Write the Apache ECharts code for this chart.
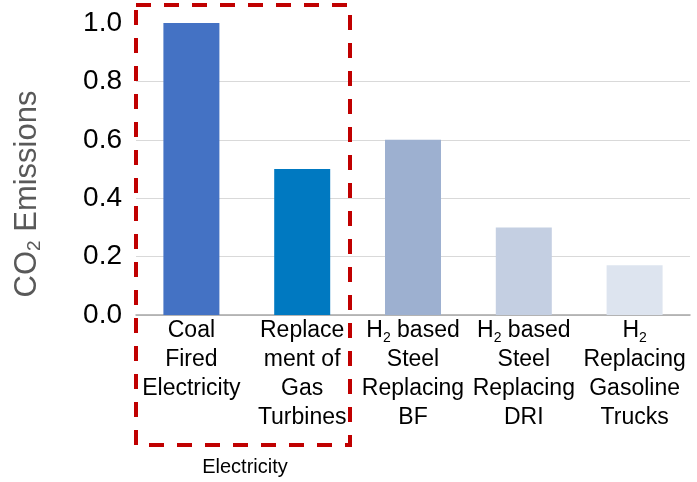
<!DOCTYPE html>
<html>
<head>
<meta charset="utf-8">
<script src="https://cdn.jsdelivr.net/npm/echarts@6/dist/echarts.min.js"></script>
<style>
  html, body { margin: 0; padding: 0; background: #ffffff; }
  #chart { width: 697px; height: 482px; }
</style>
</head>
<body>
<div id="chart"></div>
<script>
// Relative CO2 emissions per technology pathway
const categories = [
  'Coal\nFired\nElectricity',
  'Replace\nment of\nGas\nTurbines',
  'H₂ based\nSteel\nReplacing\nBF',
  'H₂ based\nSteel\nReplacing\nDRI',
  'H₂\nReplacing\nGasoline\nTrucks'
];
const emissions = [1.0, 0.5, 0.6, 0.3, 0.17];
const barColors = ['#4472c4', '#0079c1', '#9db0d0', '#c4cfe2', '#dde4ef'];
const yTicks = [0, 0.2, 0.4, 0.6, 0.8, 1.0];

const FONT = '"Liberation Sans", Arial, sans-serif';

// turn "H₂" into H with a lowered small 2
function richLabel(text) {
  return text.split('\n').map(function (line) {
    return '{a|' + line.split('₂').join('}{s|2}{a|') + '}';
  }).join('\n');
}

const chart = echarts.init(document.getElementById('chart'), null, { renderer: 'canvas' });

chart.setOption({
  animation: false,
  backgroundColor: '#ffffff',
  grid: { left: 136, right: 7, top: 23, bottom: 167, containLabel: false },
  xAxis: {
    type: 'category',
    data: categories,
    axisTick: { show: false },
    axisLine: { lineStyle: { color: '#a6a6a6', width: 1.5 } },
    axisLabel: {
      interval: 0,
      margin: 1,
      formatter: richLabel,
      rich: {
        a: { fontFamily: FONT, fontSize: 23, color: '#000000', lineHeight: 29 },
        s: { fontFamily: FONT, fontSize: 14, color: '#000000', lineHeight: 11, verticalAlign: 'bottom' }
      }
    }
  },
  yAxis: {
    type: 'value',
    min: yTicks[0],
    max: yTicks[yTicks.length - 1],
    interval: 0.2,
    axisLine: { show: false },
    axisTick: { show: false },
    splitLine: {
      lineStyle: {
        color: ['#d9d9d9', '#d9d9d9', '#d9d9d9', '#d9d9d9', '#d9d9d9', 'rgba(0,0,0,0)'],
        width: 1.2
      }
    },
    axisLabel: {
      margin: 14,
      fontFamily: FONT,
      fontSize: 28,
      color: '#000000',
      formatter: function (v) { return v.toFixed(1); }
    }
  },
  series: [{
    type: 'bar',
    barWidth: 56,
    data: emissions.map(function (v, i) {
      return { value: v, itemStyle: { color: barColors[i] } };
    })
  }],
  graphic: [
    {
      // axis title
      type: 'text',
      x: 27,
      y: 194,
      rotation: Math.PI / 2,
      style: {
        text: '{a|CO}{s|2}{a| Emissions}',
        align: 'center',
        verticalAlign: 'middle',
        rich: {
          a: { fontFamily: FONT, fontSize: 31, fill: '#595959', lineHeight: 34 },
          s: { fontFamily: FONT, fontSize: 19, fill: '#595959', lineHeight: 13, verticalAlign: 'bottom' }
        }
      }
    },
    {
      // group outline for the electricity pathways
      type: 'rect',
      shape: { x: 136, y: 5, width: 214, height: 440 },
      style: {
        fill: 'none',
        stroke: '#c00000',
        lineWidth: 4,
        lineDash: [15, 13]
      },
      z: 10
    },
    {
      type: 'text',
      x: 245,
      y: 467,
      style: {
        text: 'Electricity',
        align: 'center',
        verticalAlign: 'middle',
        fontFamily: FONT,
        fontSize: 20,
        fill: '#000000'
      }
    }
  ]
});
</script>
</body>
</html>
